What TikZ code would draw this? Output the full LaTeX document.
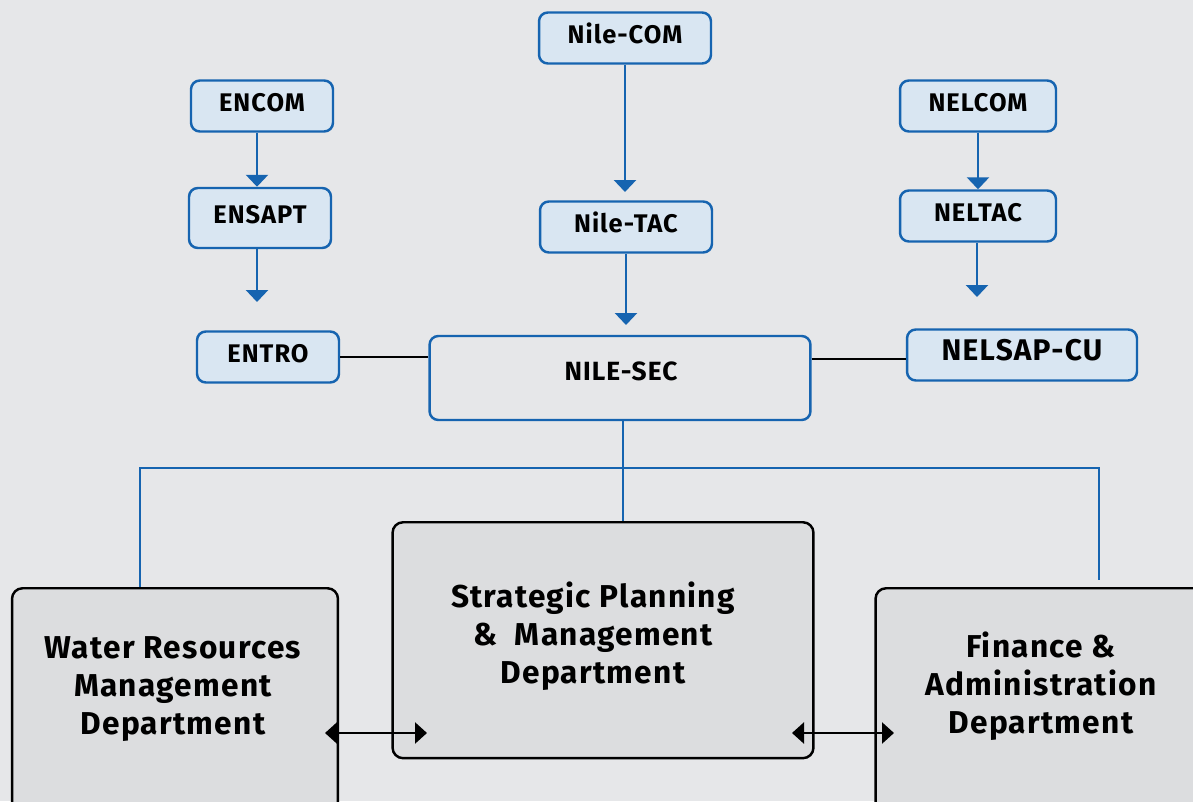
\documentclass[tikz,border=0pt]{standalone}
\usepackage{fontspec}
\setmainfont{Fira Sans}[LetterSpace=4]
\usetikzlibrary{arrows.meta}
\definecolor{nbblue}{RGB}{22,100,176}
\definecolor{nbfill}{RGB}{217,230,242}
\definecolor{nbback}{RGB}{230,231,233}
\definecolor{nbgray}{RGB}{220,221,223}
\begin{document}
\begin{tikzpicture}
	[x=0.02cm,y=-0.02cm,
	orgnode/.style={rectangle,rounded corners=5pt,draw=nbblue,fill=nbfill,line width=1.4pt,
		font=\bfseries\fontsize{14.5}{16}\selectfont,minimum height=1.02cm,
		text height=0.34cm,text depth=0.12cm},
	deptbox/.style={rectangle,rounded corners=6pt,draw=black,fill=nbgray,line width=1.4pt},
	depttext/.style={align=center,font=\bfseries\fontsize{18}{21.6}\selectfont},
	flow/.style={nbblue,line width=1.5pt,-{Triangle[width=0.44cm,length=0.24cm]}},
	branch/.style={nbblue,line width=1.5pt},
	link/.style={black,line width=1.4pt},
	both/.style={black,line width=1.4pt,{Triangle[width=0.42cm,length=0.24cm]}-{Triangle[width=0.42cm,length=0.24cm]}}]
	\useasboundingbox (0,0) rectangle (1193,801);
	\fill[nbback] (0,0) rectangle (1193,801);
	\clip (0,0) rectangle (1193,801);
	% councils and committees
	\node[orgnode,minimum width=3.44cm] (nilecom) at (625,38) {Nile-COM};
	\node[orgnode,minimum width=3.44cm] (niletac) at (626,227) {Nile-TAC};
	\node[orgnode,minimum width=2.84cm] (encom) at (262,106) {ENCOM};
	\node[orgnode,minimum width=2.84cm,minimum height=1.2cm] (ensapt) at (260,218) {ENSAPT};
	\node[orgnode,minimum width=2.84cm] (entro) at (268,357) {ENTRO};
	\node[orgnode,minimum width=3.12cm] (nelcom) at (978,106) {NELCOM};
	\node[orgnode,minimum width=3.12cm] (neltac) at (978,216) {NELTAC};
	\node[orgnode,minimum width=4.6cm,font=\bfseries\fontsize{17}{18}\selectfont] (nelsap) at (1022,355) {NELSAP-CU};
	\node[orgnode,fill=nbback,minimum width=7.62cm,minimum height=1.68cm] (sec) at (620,378) {};
	\node[font=\bfseries\fontsize{15}{16}\selectfont] (sectxt) at (621,371) {NILE-SEC};
	% departments
	\node[deptbox,minimum width=6.52cm,minimum height=5cm,anchor=north] (wrm) at (175,587) {};
	\node[deptbox,minimum width=8.42cm,minimum height=4.72cm,anchor=north] (spm) at (603,521) {};
	\node[deptbox,minimum width=6.7cm,minimum height=5cm,anchor=north] (fa) at (1043,587) {};
	\node[depttext] (wrmtxt) at (173,689) {Water Resources\\Management\\Department};
	\node[depttext] (spmtxt) at (593,636) {Strategic Planning\\\&\ \ Management\\Department};
	\node[depttext] (fatxt) at (1041,686) {Finance \&\\Administration\\Department};
	% arrows
	\coordinate (tacin) at (625,192);
	\coordinate (secin) at (625,325);
	\coordinate (entroin) at (257,302);
	\coordinate (nelsapin) at (977,297);
	\draw[flow] (nilecom) -- (tacin);
	\draw[flow] (niletac.south) -- (niletac.south |- secin);
	\draw[flow] (encom.south -| 257,0) -- (ensapt.north -| 257,0);
	\draw[flow] (ensapt.south -| entroin) -- (entroin);
	\draw[flow] (nelcom) -- (neltac);
	\draw[flow] (neltac.south -| nelsapin) -- (nelsapin);
	\draw[link] (entro.east) -- (entro.east -| sec.west);
	\draw[link] (sec.east |- 0,359) -- (nelsap.west |- 0,359);
	% tree to departments
	\coordinate (busl) at (140,468);
	\coordinate (busr) at (1099,468);
	\draw[branch] (623,420) -- (spm.north -| 623,0);
	\draw[branch] (busl |- wrm.north) -- (busl) -- (busr) -- (busr |- 0,580);
	\coordinate (wa) at (325,733);
	\coordinate (wb) at (427,733);
	\coordinate (fa1) at (792,733);
	\coordinate (fb) at (894,733);
	\draw[both] (wa) -- (wb);
	\draw[both] (fa1) -- (fb);
\end{tikzpicture}
\end{document}
